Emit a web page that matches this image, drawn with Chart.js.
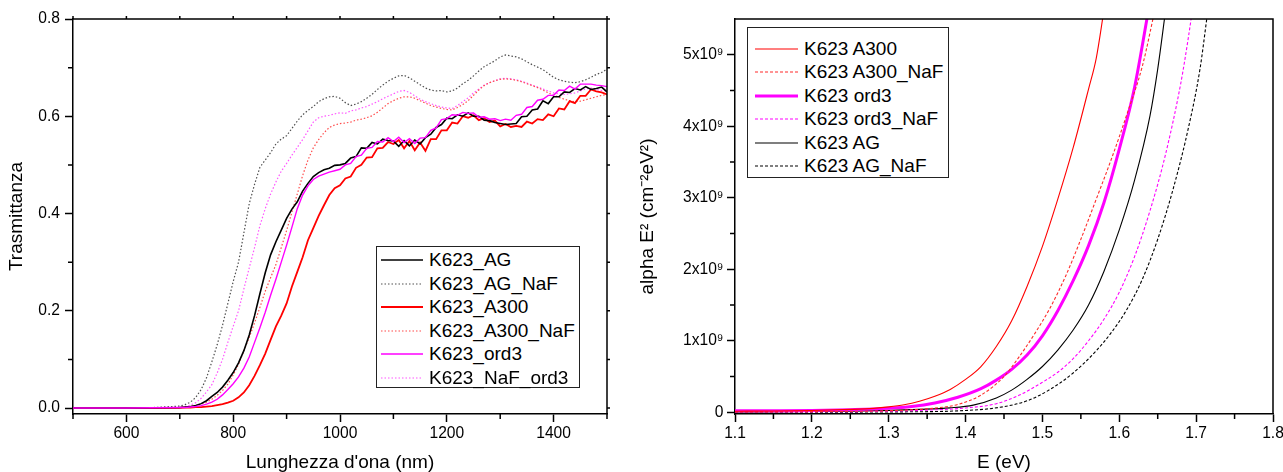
<!DOCTYPE html>
<html><head><meta charset="utf-8">
<script src="https://cdn.jsdelivr.net/npm/chart.js@4.4.1/dist/chart.umd.min.js"></script>
<style>
html,body{margin:0;padding:0;background:#fff;overflow:hidden;}
#wrap{position:relative;width:1283px;height:472px;overflow:hidden;background:#fff;font-family:'Liberation Sans',Arial,sans-serif;}
canvas{position:absolute;top:0;}
#c1{left:0}
#c2{left:636px}
.legend{position:absolute;box-sizing:border-box;border:1px solid #222;background:#fff;}
.legend .row{position:absolute;left:0;right:0;height:24px;}
.legend .row span{position:absolute;top:0;line-height:24px;font-size:19px;color:#000;white-space:nowrap;}
.legend .row svg{position:absolute;top:0;}
</style></head>
<body><div id="wrap">
<canvas id="c1" width="636" height="472"></canvas>
<canvas id="c2" width="660" height="472"></canvas>
<div id="leg1" class="legend" style="left:376px;top:246px;width:204px;height:142px"></div>
<div id="leg2" class="legend" style="left:747px;top:27px;width:202px;height:151px"></div>
</div>
<script>
// ---------- Left panel: transmittance vs wavelength ----------
const wl = [500,550,600,650,700,710,720,730,740,750,760,770,780,790,800,810,820,830,840,850,860,870,880,890,900,910,920,930,940,950,960,970,980,990,1000,1010,1020,1030,1040,1050,1060,1070,1080,1090,1100,1110,1120,1130,1140,1150,1160,1170,1180,1190,1200,1210,1220,1230,1240,1250,1260,1270,1280,1290,1300,1310,1320,1330,1340,1350,1360,1370,1380,1390,1400,1410,1420,1430,1440,1450,1460,1470,1480,1490,1500];

const tAG = [0,0,0,0.0005,0.001,0.002,0.003,0.005,0.009,0.015,0.024,0.032,0.043,0.057,0.073,0.093,0.118,0.15,0.19,0.235,0.278,0.315,0.342,0.366,0.39,0.409,0.424,0.446,0.462,0.476,0.484,0.49,0.493,0.499,0.5,0.503,0.514,0.517,0.535,0.534,0.546,0.543,0.553,0.55,0.549,0.538,0.55,0.539,0.551,0.543,0.556,0.563,0.577,0.583,0.596,0.595,0.603,0.6,0.607,0.6,0.6,0.592,0.591,0.587,0.585,0.583,0.584,0.585,0.599,0.6,0.613,0.615,0.632,0.626,0.64,0.64,0.65,0.649,0.657,0.654,0.661,0.655,0.657,0.66,0.65];

const tAGNaF = [0,0,0,0.001,0.004,0.007,0.012,0.022,0.038,0.062,0.095,0.13,0.17,0.215,0.26,0.3,0.36,0.42,0.46,0.495,0.51,0.525,0.543,0.553,0.56,0.575,0.59,0.603,0.612,0.62,0.63,0.636,0.64,0.641,0.637,0.628,0.622,0.625,0.63,0.637,0.645,0.655,0.664,0.672,0.678,0.683,0.684,0.679,0.672,0.665,0.658,0.654,0.652,0.653,0.65,0.652,0.658,0.667,0.674,0.683,0.693,0.702,0.708,0.714,0.722,0.726,0.724,0.722,0.718,0.712,0.706,0.701,0.696,0.688,0.68,0.675,0.672,0.67,0.669,0.671,0.675,0.68,0.686,0.69,0.697];

const tA300 = [0,0,0,0,0.0005,0.001,0.001,0.002,0.002,0.003,0.004,0.006,0.008,0.011,0.015,0.022,0.032,0.047,0.066,0.088,0.112,0.14,0.168,0.19,0.215,0.25,0.28,0.31,0.345,0.37,0.395,0.417,0.438,0.452,0.458,0.472,0.476,0.494,0.5,0.515,0.516,0.534,0.535,0.547,0.543,0.551,0.534,0.549,0.53,0.546,0.529,0.553,0.553,0.571,0.571,0.587,0.585,0.6,0.597,0.602,0.592,0.596,0.588,0.591,0.579,0.584,0.578,0.58,0.578,0.589,0.585,0.594,0.592,0.604,0.6,0.616,0.614,0.631,0.627,0.642,0.642,0.655,0.651,0.649,0.645];

const tA300NaF = [0,0,0,0,0.001,0.002,0.003,0.005,0.008,0.012,0.018,0.026,0.036,0.049,0.068,0.09,0.118,0.145,0.175,0.207,0.24,0.268,0.295,0.33,0.365,0.403,0.44,0.478,0.51,0.535,0.552,0.566,0.577,0.582,0.585,0.586,0.588,0.592,0.594,0.597,0.601,0.608,0.617,0.626,0.632,0.637,0.64,0.64,0.637,0.632,0.627,0.622,0.619,0.616,0.614,0.613,0.618,0.624,0.632,0.643,0.654,0.663,0.669,0.673,0.676,0.677,0.676,0.674,0.671,0.667,0.663,0.659,0.654,0.648,0.643,0.639,0.635,0.632,0.63,0.631,0.634,0.637,0.64,0.643,0.645];

const tOrd3 = [0,0,0,0.0005,0.001,0.001,0.002,0.003,0.005,0.008,0.012,0.018,0.027,0.038,0.05,0.064,0.082,0.105,0.135,0.165,0.197,0.232,0.265,0.3,0.335,0.372,0.41,0.438,0.457,0.47,0.477,0.481,0.485,0.488,0.491,0.5,0.503,0.517,0.52,0.534,0.536,0.548,0.547,0.556,0.548,0.557,0.546,0.554,0.544,0.555,0.556,0.571,0.576,0.593,0.595,0.603,0.602,0.608,0.606,0.607,0.598,0.599,0.594,0.595,0.591,0.594,0.592,0.602,0.604,0.618,0.62,0.633,0.635,0.643,0.643,0.654,0.653,0.662,0.656,0.666,0.666,0.666,0.664,0.663,0.661];

const tNaFOrd3 = [0,0,0,0,0.002,0.003,0.006,0.011,0.02,0.033,0.048,0.072,0.1,0.135,0.168,0.2,0.245,0.288,0.33,0.375,0.41,0.44,0.465,0.487,0.503,0.52,0.536,0.552,0.57,0.588,0.597,0.6,0.602,0.605,0.607,0.606,0.611,0.613,0.617,0.62,0.625,0.63,0.636,0.641,0.646,0.651,0.653,0.649,0.642,0.635,0.63,0.626,0.622,0.619,0.617,0.616,0.622,0.63,0.638,0.648,0.656,0.664,0.669,0.673,0.677,0.678,0.677,0.675,0.672,0.668,0.664,0.66,0.656,0.652,0.648,0.646,0.645,0.646,0.648,0.652,0.656,0.658,0.655,0.653,0.652];

const nmTicks = [600, 800, 1000, 1200, 1400];
const nmTickLabels = ['600', '800', '1000', '1200', '1400'];
const nmMinor = [500, 700, 900, 1100, 1300, 1500];
const tTicks = [0, 0.2, 0.4, 0.6, 0.8];
const tTickLabels = ['0.0', '0.2', '0.4', '0.6', '0.8'];
const tMinor = [0.1, 0.3, 0.5, 0.7];

// ---------- Right panel: alpha E^2 vs E ----------
const eA300 = [1.10,1.15,1.20,1.25,1.28,1.30,1.32,1.34,1.36,1.38,1.40,1.42,1.44,1.46,1.48,1.50,1.52,1.54,1.56,1.57,1.58,1.59];
const aA300 = [0.015e9,0.018e9,0.025e9,0.04e9,0.055e9,0.075e9,0.105e9,0.155e9,0.225e9,0.32e9,0.46e9,0.64e9,0.92e9,1.28e9,1.76e9,2.32e9,2.98e9,3.7e9,4.52e9,4.95e9,5.62e9,6.3e9];

const eA300NaF = [1.10,1.15,1.20,1.25,1.30,1.33,1.36,1.39,1.42,1.45,1.47,1.49,1.51,1.53,1.55,1.57,1.59,1.61,1.63,1.645,1.66];
const aA300NaF = [0.004e9,0.006e9,0.009e9,0.013e9,0.022e9,0.035e9,0.058e9,0.11e9,0.24e9,0.5e9,0.78e9,1.1e9,1.46e9,1.9e9,2.42e9,2.98e9,3.55e9,4.17e9,4.84e9,5.56e9,6.3e9];

const eOrd3 = [1.10,1.15,1.20,1.25,1.30,1.33,1.36,1.39,1.42,1.44,1.46,1.48,1.50,1.52,1.54,1.56,1.58,1.60,1.62,1.64];
const aOrd3 = [0.02e9,0.022e9,0.026e9,0.036e9,0.055e9,0.08e9,0.13e9,0.21e9,0.33e9,0.45e9,0.6e9,0.8e9,1.07e9,1.42e9,1.84e9,2.33e9,2.93e9,3.68e9,4.55e9,5.75e9];

const eOrd3NaF = [1.10,1.20,1.30,1.35,1.40,1.44,1.47,1.50,1.52,1.54,1.56,1.58,1.60,1.62,1.64,1.66,1.68,1.69,1.70];
const aOrd3NaF = [0.003e9,0.006e9,0.015e9,0.03e9,0.06e9,0.12e9,0.24e9,0.42e9,0.56e9,0.75e9,1.0e9,1.3e9,1.68e9,2.18e9,2.82e9,3.6e9,4.6e9,5.25e9,6.0e9];

const eAG = [1.10,1.20,1.25,1.30,1.34,1.38,1.41,1.44,1.46,1.48,1.50,1.52,1.54,1.56,1.58,1.60,1.62,1.64,1.65,1.66];
const aAG = [0.005e9,0.01e9,0.016e9,0.026e9,0.04e9,0.062e9,0.1e9,0.2e9,0.31e9,0.46e9,0.64e9,0.87e9,1.15e9,1.5e9,1.97e9,2.55e9,3.25e9,4.15e9,4.8e9,5.6e9];

const eAGNaF = [1.10,1.20,1.30,1.40,1.445,1.48,1.51,1.54,1.57,1.59,1.61,1.63,1.65,1.67,1.69,1.705,1.715,1.72];
const aAGNaF = [0.001e9,0.002e9,0.005e9,0.025e9,0.07e9,0.16e9,0.32e9,0.55e9,0.86e9,1.12e9,1.44e9,1.86e9,2.42e9,3.12e9,3.98e9,4.8e9,5.6e9,6.0e9];

const eTicks = [1.1, 1.2, 1.3, 1.4, 1.5, 1.6, 1.7, 1.8];
const eTickLabels = ['1.1', '1.2', '1.3', '1.4', '1.5', '1.6', '1.7', '1.8'];
const eMinor = [1.15, 1.25, 1.35, 1.45, 1.55, 1.65, 1.75];
const aTicks = [0, 1e9, 2e9, 3e9, 4e9, 5e9];
const aTickLabels = ['0', '1x10⁹', '2x10⁹', '3x10⁹', '4x10⁹', '5x10⁹'];
const aMinor = [0.5e9, 1.5e9, 2.5e9, 3.5e9, 4.5e9];

// ---------- helpers ----------
Chart.defaults.font.family = "'Liberation Sans', Arial, sans-serif";
Chart.defaults.color = '#000';

const pts = (xs, ys) => xs.map((v, i) => ({x: v, y: ys[i]}));
const labelFor = (vals, labels) => (v) => {
  for (let i = 0; i < vals.length; i++) if (Math.abs(vals[i] - v) < 1e-6 * Math.max(1, Math.abs(vals[i]))) return labels[i];
  return '';
};

const axisExtras = {
  id: 'axisExtras',
  afterDraw(chart, args, opts) {
    const {ctx, chartArea: a} = chart;
    const x = chart.scales.x, y = chart.scales.y;
    ctx.save();
    ctx.strokeStyle = '#000';
    ctx.lineWidth = 1.5;
    ctx.beginPath();
    ctx.moveTo(a.left, a.top); ctx.lineTo(a.right, a.top); ctx.lineTo(a.right, a.bottom);
    ctx.stroke();
    ctx.beginPath();
    for (const v of opts.minorX) { const p = x.getPixelForValue(v); ctx.moveTo(p, a.bottom); ctx.lineTo(p, a.bottom + 5); }
    for (const v of opts.minorY) { const p = y.getPixelForValue(v); ctx.moveTo(a.left, p); ctx.lineTo(a.left - 5, p); }
    if (opts.mirror) {
      for (const v of opts.minorX.concat(x.ticks.map(t => t.value))) { const p = x.getPixelForValue(v); ctx.moveTo(p, a.top); ctx.lineTo(p, a.top - 3); }
      for (const v of opts.minorY.concat(y.ticks.map(t => t.value))) { const p = y.getPixelForValue(v); ctx.moveTo(a.right, p); ctx.lineTo(a.right + 3, p); }
    }
    ctx.stroke();
    ctx.restore();
  }
};

function axis(opts) {
  const horiz = opts.horizontal;
  return {
    type: 'linear',
    min: opts.min, max: opts.max,
    afterBuildTicks: s => { s.ticks = opts.ticks.map(v => ({value: v})); },
    afterFit: s => { if (horiz) s.height = opts.size; else s.width = opts.size; },
    ticks: {
      callback: labelFor(opts.ticks, opts.labels),
      font: {size: 15.6},
      color: '#000',
      padding: opts.pad,
      maxRotation: 0, minRotation: 0,
      autoSkip: false
    },
    grid: {display: true, drawOnChartArea: false, drawTicks: true, tickLength: 8, tickColor: '#000', tickWidth: 1.5},
    border: {display: true, color: '#000', width: 1.5},
    title: {display: true, text: opts.title, color: '#000', font: {size: 19, lineHeight: 1}, padding: opts.titlePad}
  };
}

function buildLegend(el, datasets, g) {
  datasets.forEach((d, i) => {
    const row = document.createElement('div');
    row.className = 'row';
    row.style.top = (g.first + g.step * i - 12 - 1) + 'px';
    const w = g.x1 - g.x0;
    const dash = d.borderDash ? d.borderDash.join(',') : 'none';
    row.innerHTML = '<svg width="' + w + '" height="24" style="left:' + (g.x0 - 1) + 'px"><line x1="0" y1="12" x2="' + w + '" y2="12" stroke="' + d.borderColor + '" stroke-width="' + Math.max(d.borderWidth, 1.2) + '" stroke-dasharray="' + dash + '"/></svg>' +
      '<span style="left:' + (g.tx - 1) + 'px"></span>';
    row.querySelector('span').textContent = d.label;
    el.appendChild(row);
  });
}

// ---------- left chart ----------
const leftSets = [
  {label: 'K623_AG', data: pts(wl, tAG), borderColor: '#000000', borderWidth: 1.6, order: 1},
  {label: 'K623_AG_NaF', data: pts(wl, tAGNaF), borderColor: '#505050', borderWidth: 1.2, borderDash: [1.5, 2], order: 3},
  {label: 'K623_A300', data: pts(wl, tA300), borderColor: '#ff0000', borderWidth: 1.8, order: 2},
  {label: 'K623_A300_NaF', data: pts(wl, tA300NaF), borderColor: '#ff4a4a', borderWidth: 1.2, borderDash: [1.5, 2], order: 3},
  {label: 'K623_ord3', data: pts(wl, tOrd3), borderColor: '#ff00ff', borderWidth: 1.4, order: 0},
  {label: 'K623_NaF_ord3', data: pts(wl, tNaFOrd3), borderColor: '#ff55ff', borderWidth: 1.2, borderDash: [1.5, 2], order: 3}
];

new Chart(document.getElementById('c1'), {
  type: 'line',
  data: {datasets: leftSets.map(d => Object.assign({pointRadius: 0, fill: false, tension: 0, clip: 0}, d))},
  options: {
    responsive: false, animation: false, devicePixelRatio: 1,
    layout: {padding: {top: 19, right: 29, left: 0, bottom: 0}},
    plugins: {legend: {display: false}, tooltip: {enabled: false},
      axisExtras: {minorX: nmMinor, minorY: tMinor, mirror: true}},
    scales: {
      x: axis({horizontal: true, min: 500, max: 1500, ticks: nmTicks, labels: nmTickLabels, size: 58, pad: 2.5, title: "Lunghezza d'ona (nm)", titlePad: {top: 0, bottom: 0}}),
      y: axis({horizontal: false, min: -0.0123, max: 0.8, ticks: tTicks, labels: tTickLabels, size: 73, pad: 5, title: 'Trasmittanza', titlePad: {top: 7, bottom: 0}})
    }
  },
  plugins: [axisExtras]
});
buildLegend(document.getElementById('leg1'), leftSets, {first: 14, step: 23.5, x0: 5, x1: 47, tx: 53});

// ---------- right chart ----------
const rightSets = [
  {label: 'K623 A300', data: pts(eA300, aA300), borderColor: '#ff0000', borderWidth: 1.1},
  {label: 'K623 A300_NaF', data: pts(eA300NaF, aA300NaF), borderColor: '#ff2a2a', borderWidth: 1.1, borderDash: [3, 2]},
  {label: 'K623 ord3', data: pts(eOrd3, aOrd3), borderColor: '#ff00ff', borderWidth: 3},
  {label: 'K623 ord3_NaF', data: pts(eOrd3NaF, aOrd3NaF), borderColor: '#ff00ff', borderWidth: 1.1, borderDash: [3, 2]},
  {label: 'K623 AG', data: pts(eAG, aAG), borderColor: '#000000', borderWidth: 1.1},
  {label: 'K623 AG_NaF', data: pts(eAGNaF, aAGNaF), borderColor: '#000000', borderWidth: 1.1, borderDash: [3, 2]}
];

new Chart(document.getElementById('c2'), {
  type: 'line',
  data: {datasets: rightSets.map(d => Object.assign({pointRadius: 0, fill: false, cubicInterpolationMode: 'monotone', clip: 0}, d))},
  options: {
    responsive: false, animation: false, devicePixelRatio: 1,
    layout: {padding: {top: 19, right: 23, left: 0, bottom: 0}},
    plugins: {legend: {display: false}, tooltip: {enabled: false},
      axisExtras: {minorX: eMinor, minorY: aMinor, mirror: false}},
    scales: {
      x: axis({horizontal: true, min: 1.1, max: 1.8, ticks: eTicks, labels: eTickLabels, size: 58, pad: 2.5, title: 'E (eV)', titlePad: {top: 0, bottom: 0}}),
      y: axis({horizontal: false, min: -0.024e9, max: 5.5e9, ticks: aTicks, labels: aTickLabels, size: 99, pad: 3.5, title: 'alpha E² (cm⁻²eV²)', titlePad: {top: 2, bottom: 0}})
    }
  },
  plugins: [axisExtras]
});
buildLegend(document.getElementById('leg2'), rightSets, {first: 21.6, step: 23.5, x0: 8, x1: 51, tx: 57});
</script></body></html>
